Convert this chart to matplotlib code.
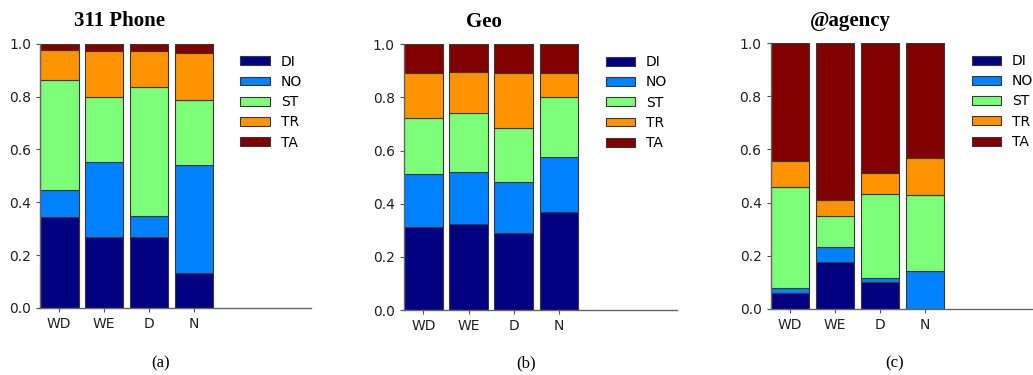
import numpy as np
import matplotlib.pyplot as plt

categories = ['WD', 'WE', 'D', 'N']
series     = ['DI', 'NO', 'ST', 'TR', 'TA']

# cumulative tops, converted to shares below
phone_tops = {
    'DI': [0.343, 0.270, 0.268, 0.131],
    'NO': [0.447, 0.551, 0.348, 0.543],
    'ST': [0.862, 0.799, 0.837, 0.789],
    'TR': [0.975, 0.972, 0.972, 0.966],
    'TA': [1.0, 1.0, 1.0, 1.0],
}
geo_tops = {
    'DI': [0.311, 0.324, 0.291, 0.368],
    'NO': [0.511, 0.518, 0.481, 0.577],
    'ST': [0.721, 0.740, 0.686, 0.802],
    'TR': [0.891, 0.895, 0.891, 0.891],
    'TA': [1.0, 1.0, 1.0, 1.0],
}
agency_tops = {
    'DI': [0.060, 0.177, 0.100, 0.0],
    'NO': [0.079, 0.235, 0.118, 0.143],
    'ST': [0.458, 0.351, 0.432, 0.427],
    'TR': [0.557, 0.410, 0.513, 0.568],
    'TA': [1.0, 1.0, 1.0, 1.0],
}

titles   = ['311 Phone', 'Geo', '@agency']
captions = ['(a)', '(b)', '(c)']

colors = plt.cm.jet(np.linspace(0, 1, len(series)))

fig = plt.figure(figsize = (10.33, 3.75), dpi = 100)

### ~~~~~~~~~~~~~~~~~~~~~~~~~~~~~~~~~~~~~~~ ###
# axes placement: [left, bottom, width, height], xlim right, legend x, caption x
panels = [
    ([0.0387, 0.179, 0.262, 0.704], 5.6, 0.72, 0.155),
    ([0.391,  0.173, 0.264, 0.709], 5.6, 0.72, 0.509),
    ([0.746,  0.176, 0.254, 0.709], 5.4, 0.745, 0.866),
]

for tops, title, caption, (rect, xmax, legx, capx) in zip(
        [phone_tops, geo_tops, agency_tops], titles, captions, panels):

    ax = fig.add_axes(rect)
    x = np.arange(len(categories))

    bottom = np.zeros(len(categories))
    for name, color in zip(series, colors):
        top = np.array(tops[name])
        ax.bar(x, top - bottom, bottom = bottom, width = 0.86,
               color = color, edgecolor = '#383838', linewidth = 0.8, label = name)
        bottom = top

    ax.set_xlim(-0.43, xmax)
    ax.set_ylim(0, 1.0)
    ax.set_xticks(x)
    ax.set_xticklabels(categories)
    ax.set_yticks([0.0, 0.2, 0.4, 0.6, 0.8, 1.0])
    ax.tick_params(labelsize = 10, length = 3, width = 0.8, color = '#555555', labelcolor = '#222222')

    for side in ['top', 'right']:
        ax.spines[side].set_visible(False)
    for side in ['left', 'bottom']:
        ax.spines[side].set_color('#666666')
        ax.spines[side].set_linewidth(1.0)

    ax.text(1.35, 1.085, title, ha = 'center', va = 'center',
            transform = ax.get_xaxis_transform(),
            fontsize = 15, fontweight = 'bold', family = 'Liberation Serif')

    ax.legend(loc = 'upper left', bbox_to_anchor = (legx, 0.98), frameon = False,
              fontsize = 10, handlelength = 2.1, handleheight = 0.6,
              labelspacing = 0.45, handletextpad = 0.8, borderaxespad = 0)

    fig.text(capx, 0.032, caption, ha = 'center', va = 'center',
             fontsize = 12, family = 'Liberation Serif')

plt.savefig('out.png', dpi = 100)
